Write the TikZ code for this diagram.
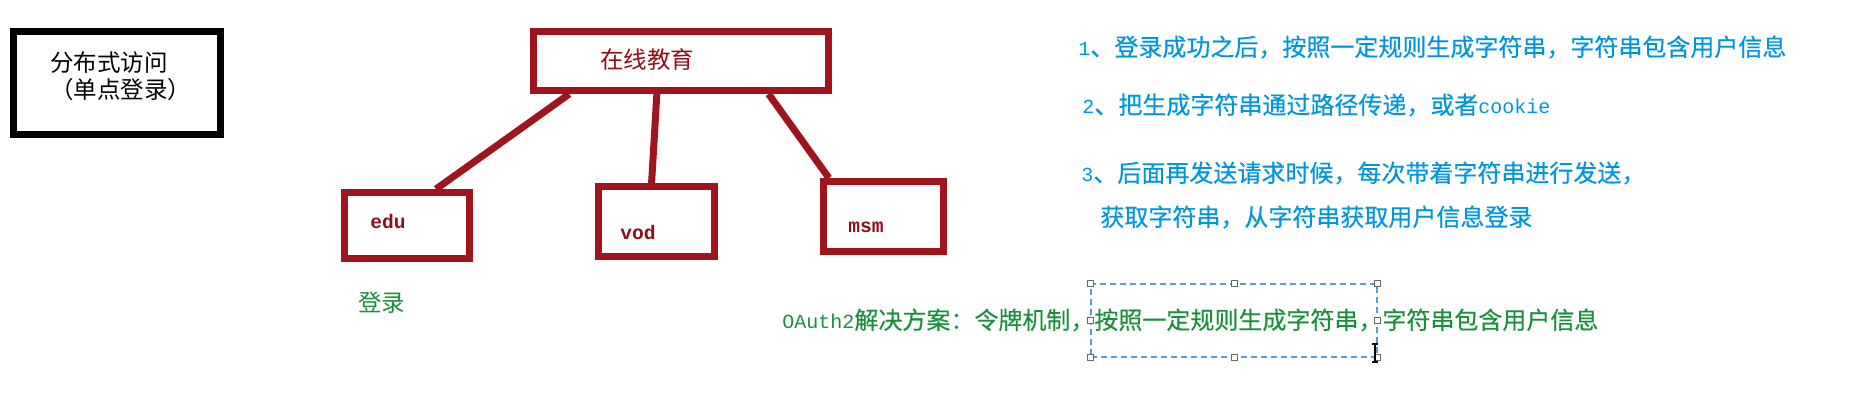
\documentclass[tikz,border=0pt]{standalone}
\usepackage{fontspec}
\setmainfont{Noto Sans CJK SC}
\newfontfamily\notefont[FakeBold=0.4]{Noto Sans CJK SC}
\newfontfamily\monofont[Scale=0.8333]{Liberation Mono}
\usetikzlibrary{calc}

\definecolor{boxred}{RGB}{160,20,30}
\definecolor{textred}{RGB}{140,15,25}
\definecolor{noteblue}{RGB}{0,150,220}
\definecolor{notegreen}{RGB}{25,145,60}
\definecolor{selblue}{RGB}{90,155,215}

\begin{document}
\begin{tikzpicture}[x=0.5pt,y=-0.5pt]
		\tikzstyle{every node}=[inner sep=0pt]
		\tikzstyle{titlebox}=[draw=black,line width=3.5pt,minimum width=103.5pt,minimum height=51.5pt]
		\tikzstyle{sysbox}=[draw=boxred,line width=3.5pt]
		\tikzstyle{sysline}=[boxred,line width=3.5pt]
		\tikzstyle{leftfont}=[anchor=west,font=\fontsize{11.75}{13.5}\selectfont]
		\tikzstyle{sysname}=[anchor=west,text=textred,font=\fontsize{11.75}{14}\selectfont\monofont\bfseries]
		\tikzstyle{notetext}=[anchor=west,text=noteblue,font=\fontsize{12}{15}\selectfont\notefont]
		\tikzstyle{handle}=[draw=black!60,fill=white,line width=0.5pt,minimum size=3pt]
		
		\useasboundingbox (0,0) rectangle (1875,407);
		
		%% Title box
		\node [titlebox] (title) at (117,83) {};
		\node [leftfont,align=left] (titletext) at (50,76.5) {分布式访问\\（单点登录）};
		
		%% Online education and its sub systems
		\node [sysbox,minimum width=147.5pt,minimum height=29.5pt] (online) at (681,61) {};
		\node [sysbox,minimum width=62.5pt,minimum height=33pt] (edu) at (407,225.5) {};
		\node [sysbox,minimum width=58pt,minimum height=35pt] (vod) at (656.5,221.5) {};
		\node [sysbox,minimum width=60pt,minimum height=35pt] (msm) at (883.5,216.5) {};
		
		\node [leftfont,text=textred] (onlinetext) at (600,60) {在线教育};
		\node [sysname] (edutext) at (370,221) {edu};
		\node [sysname] (vodtext) at (620,232) {vod};
		\node [sysname] (msmtext) at (848,227) {msm};
		
		\draw [sysline] ($(online.south west)!0.13!(online.south east)$) -- ($(edu.north west)!0.72!(edu.north east)$);
		\draw [sysline] ($(online.south west)!0.42!(online.south east)$) -- ($(vod.north west)!0.46!(vod.north east)$);
		\draw [sysline] ($(online.south west)!0.79!(online.south east)$) -- ($(msm.north west)!0.07!(msm.north east)$);
		
		\node [leftfont,text=notegreen] (login) at (358,303) {登录};
		
		%% Steps
		\node [notetext] (step1) at (1078,47) {{\monofont 1}、登录成功之后，按照一定规则生成字符串，字符串包含用户信息};
		\node [notetext] (step2) at (1082,105) {{\monofont 2}、把生成字符串通过路径传递，或者{\monofont cookie}};
		\node [notetext] (step3) at (1081,173) {{\monofont 3}、后面再发送请求时候，每次带着字符串进行发送，};
		\node [notetext] (step3b) at (1100,217) {获取字符串，从字符串获取用户信息登录};
		
		%% OAuth2 with the selection frame
		\node [draw=selblue,line width=0.6pt,dash pattern=on 3pt off 2pt,minimum width=143pt,minimum height=36.5pt] (sel) at (1234,320.5) {};
		\foreach \a in {north west,north,north east,west,east,south west,south,south east}
		\node [handle] at (sel.\a) {};
		\node [notetext,text=notegreen] (oauth) at (782,320) {{\monofont OAuth2}解决方案：令牌机制，按照一定规则生成字符串，字符串包含用户信息};
		\draw [line width=0.8pt] (1372,344) -- (1378,344) (1375,344) -- (1375,362) (1372,362) -- (1378,362);
		
\end{tikzpicture}
\end{document}
